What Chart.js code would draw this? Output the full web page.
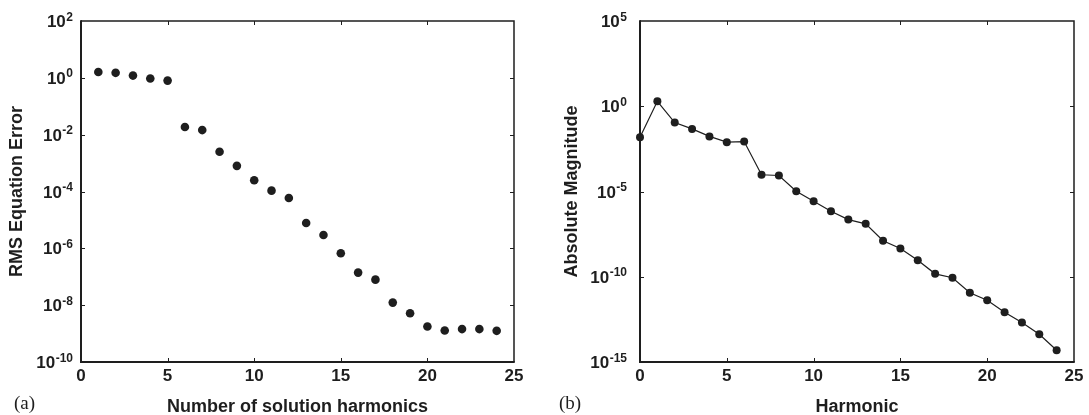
<!DOCTYPE html>
<html>
<head>
<meta charset="utf-8">
<script src="https://cdn.jsdelivr.net/npm/chart.js@4/dist/chart.umd.min.js"></script>
<style>
  body { margin: 0; background: #fff; }
  #wrap { position: relative; width: 1089px; height: 415px; }
  canvas { position: absolute; top: 0; }
  #chart-a { left: 0; }
  #chart-b { left: 545px; }
</style>
</head>
<body>
<div id="wrap">
  <canvas id="chart-a" width="545" height="415"></canvas>
  <canvas id="chart-b" width="544" height="415"></canvas>
</div>
<script>
// (a) RMS equation error vs number of solution harmonics
const harmonicsA = [1, 2, 3, 4, 5, 6, 7, 8, 9, 10, 11, 12, 13, 14, 15, 16, 17, 18, 19, 20, 21, 22, 23, 24];
const rmsError = [1.6, 1.5, 1.2, 0.95, 0.8, 0.0185, 0.0145, 0.0025, 0.0008, 0.00025, 1.07e-4, 5.9e-5,
  7.8e-6, 2.95e-6, 6.7e-7, 1.4e-7, 7.9e-8, 1.23e-8, 5.2e-9, 1.78e-9, 1.28e-9, 1.44e-9, 1.44e-9, 1.25e-9];

// (b) absolute magnitude per harmonic
const harmonicsB = [0, 1, 2, 3, 4, 5, 6, 7, 8, 9, 10, 11, 12, 13, 14, 15, 16, 17, 18, 19, 20, 21, 22, 23, 24];
const magnitude = [0.015, 1.96, 0.11, 0.047, 0.017, 0.0078, 0.0085, 9.6e-5, 8.7e-5, 1.04e-5, 2.7e-6, 6.9e-7,
  2.25e-7, 1.27e-7, 1.3e-8, 4.5e-9, 9.3e-10, 1.48e-10, 8.7e-11, 1.15e-11, 4.2e-12, 8.3e-13, 2.1e-13, 4.2e-14, 4.9e-15];

// tick labels
const xTicks = [0, 5, 10, 15, 20, 25];
const yExpsA = [2, 0, -2, -4, -6, -8, -10];
const yExpsB = [5, 0, -5, -10, -15];

const INK = '#1e1e1e';
const SANS = '"Liberation Sans", Arial, Helvetica, sans-serif';
const SERIF = '"Liberation Serif", "Times New Roman", serif';

// draws the box, inward ticks, 10^n labels and titles
const framePlugin = {
  id: 'frame',
  beforeDatasetsDraw(chart, args, opts) {
    const ctx = chart.ctx;
    const { left, right, top, bottom } = chart.chartArea;
    const xs = chart.scales.x, ys = chart.scales.y;
    ctx.save();
    ctx.strokeStyle = INK;
    ctx.fillStyle = INK;

    // thin top/right
    ctx.lineWidth = 1.5;
    ctx.beginPath();
    ctx.moveTo(left, top); ctx.lineTo(right, top); ctx.lineTo(right, bottom);
    ctx.stroke();
    // heavier left/bottom
    ctx.lineWidth = 2;
    ctx.beginPath();
    ctx.moveTo(left, top - 0.75); ctx.lineTo(left, bottom); ctx.lineTo(right + 0.75, bottom);
    ctx.stroke();

    // ticks
    ctx.lineWidth = 1;
    const tl = 4;
    ctx.beginPath();
    xTicks.forEach(v => {
      const px = Math.round(xs.getPixelForValue(v)) + 0.5;
      if (px - left < 2 || right - px < 2) return;
      ctx.moveTo(px, bottom); ctx.lineTo(px, bottom - tl);
      ctx.moveTo(px, top); ctx.lineTo(px, top + tl);
    });
    opts.yExps.forEach(e => {
      const py = Math.round(ys.getPixelForValue(Math.pow(10, e))) + 0.5;
      if (py - top < 2 || bottom - py < 2) return;
      ctx.moveTo(left, py); ctx.lineTo(left + tl, py);
      ctx.moveTo(right, py); ctx.lineTo(right - tl, py);
    });
    ctx.stroke();

    // x tick labels
    ctx.font = 'bold 17px ' + SANS;
    ctx.textAlign = 'center';
    ctx.textBaseline = 'alphabetic';
    xTicks.forEach(v => {
      ctx.fillText(String(v), xs.getPixelForValue(v), bottom + 19);
    });

    // y tick labels with superscript exponents
    ctx.textAlign = 'left';
    opts.yExps.forEach(e => {
      const py = ys.getPixelForValue(Math.pow(10, e));
      const exp = String(e);
      ctx.font = 'bold 12px ' + SANS;
      const w2 = ctx.measureText(exp).width;
      ctx.font = 'bold 17px ' + SANS;
      const w1 = ctx.measureText('10').width;
      const xr = left - opts.labelGap;
      ctx.fillText('10', xr - w2 - w1 - 0.5, py + 6);
      ctx.font = 'bold 12px ' + SANS;
      ctx.fillText(exp, xr - w2, py - 0.5);
    });

    // axis titles
    ctx.font = 'bold 18px ' + SANS;
    ctx.textAlign = 'center';
    ctx.fillText(opts.xTitle, (left + right) / 2, 412);
    ctx.save();
    ctx.translate(opts.yTitleX, (top + bottom) / 2);
    ctx.rotate(-Math.PI / 2);
    ctx.textBaseline = 'middle';
    ctx.fillText(opts.yTitle, 0, 0);
    ctx.restore();

    // panel tag
    ctx.font = '19px ' + SERIF;
    ctx.textAlign = 'left';
    ctx.fillText(opts.panel, 14, 409);
    ctx.restore();
  }
};

function makeChart(id, xs, ys, cfg) {
  const points = xs.map((x, i) => ({ x: x, y: ys[i] }));
  return new Chart(document.getElementById(id), {
    type: 'line',
    data: {
      datasets: [{
        data: points,
        showLine: cfg.showLine,
        borderColor: INK,
        borderWidth: 1.2,
        pointRadius: cfg.radius,
        pointBackgroundColor: INK,
        pointBorderColor: INK,
        pointBorderWidth: 0,
        tension: 0,
        clip: false
      }]
    },
    options: {
      responsive: false,
      animation: false,
      events: [],
      layout: { autoPadding: false, padding: cfg.padding },
      plugins: {
        legend: { display: false },
        tooltip: { enabled: false },
        frame: cfg.frame
      },
      scales: {
        x: { type: 'linear', min: 0, max: 25, display: false },
        y: { type: 'logarithmic', min: cfg.yMin, max: cfg.yMax, display: false }
      }
    },
    plugins: [framePlugin]
  });
}

makeChart('chart-a', harmonicsA, rmsError, {
  showLine: false,
  radius: 4.3,
  yMin: 1e-10, yMax: 1e2,
  padding: { left: 81, right: 31, top: 21, bottom: 53 },
  frame: { yExps: yExpsA, labelGap: 8, xTitle: 'Number of solution harmonics', yTitle: 'RMS Equation Error', yTitleX: 17, panel: '(a)' }
});

makeChart('chart-b', harmonicsB, magnitude, {
  showLine: true,
  radius: 4,
  yMin: 1e-15, yMax: 1e5,
  padding: { left: 95, right: 15, top: 21, bottom: 53 },
  frame: { yExps: yExpsB, labelGap: 13, xTitle: 'Harmonic', yTitle: 'Absolute Magnitude', yTitleX: 27, panel: '(b)' }
});
</script>
</body>
</html>
